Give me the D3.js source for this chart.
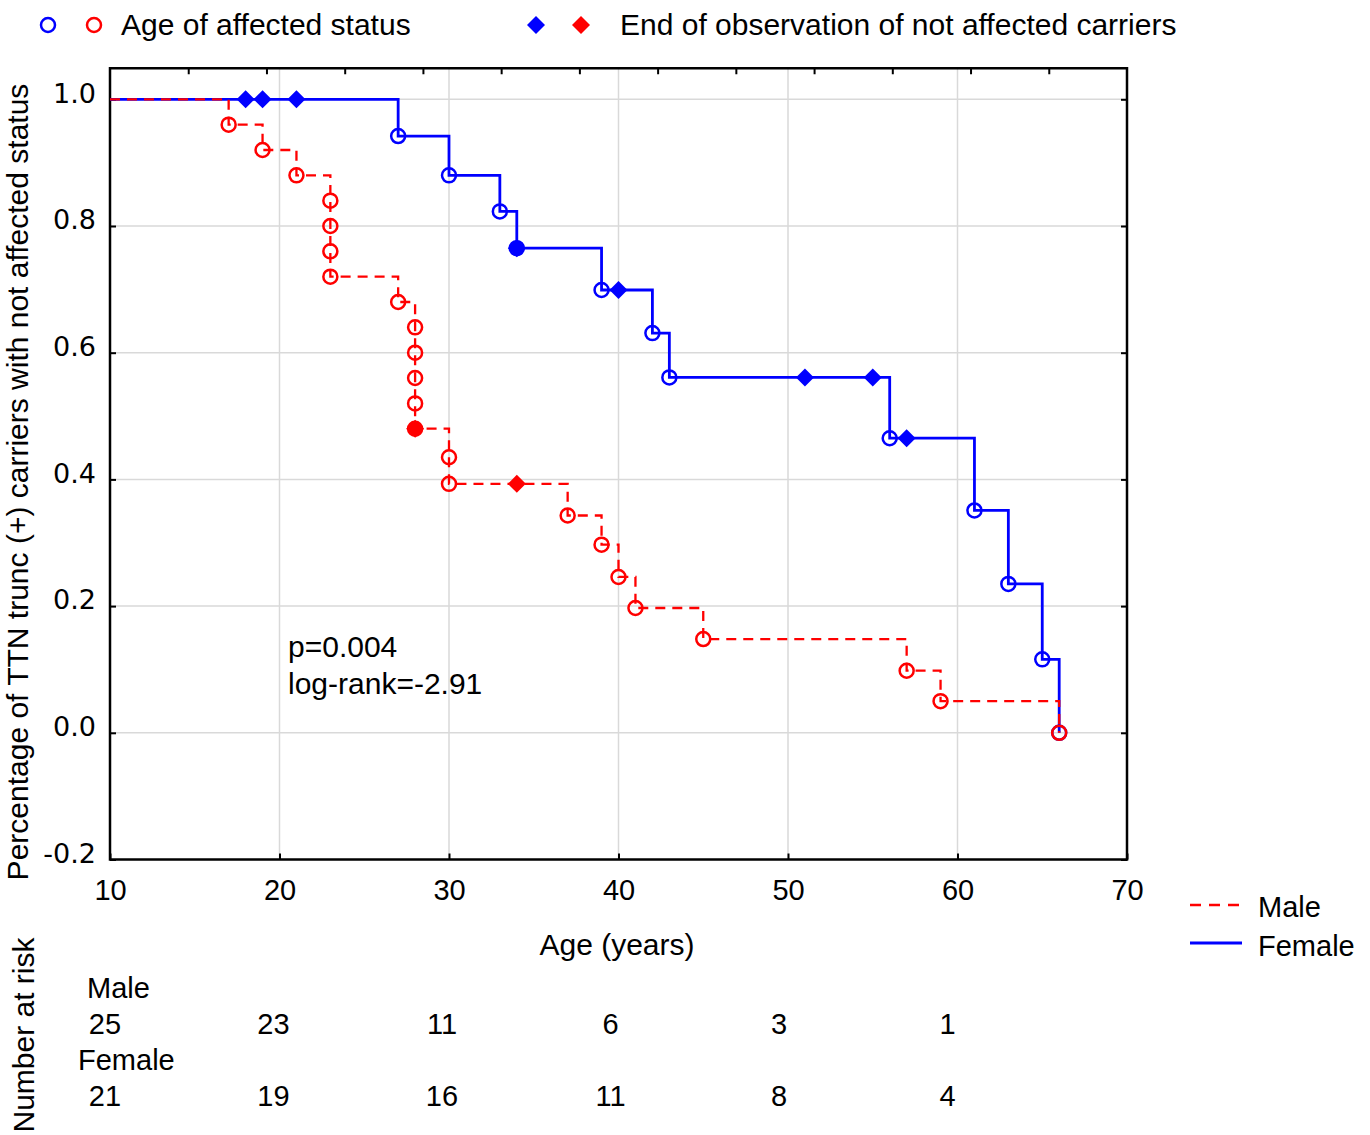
<!DOCTYPE html>
<html>
<head>
<meta charset="utf-8">
<script src="https://cdn.jsdelivr.net/npm/d3@7"></script>
<style>
  body { margin: 0; background: #fff; }
  svg text { font-family: "Liberation Sans", Arial, sans-serif; fill: #000; }
  .ytick text { font-family: "DejaVu Sans", Verdana, sans-serif; }
</style>
</head>
<body>
<svg id="chart" width="1370" height="1135"></svg>
<script>
// ages at which an affected status was observed (one entry per event) and survival after it
const maleEventAges = [17, 19, 21, 23, 23, 23, 23, 27, 28, 28, 28, 28, 28, 30, 30, 37, 39, 40, 41, 45, 57, 59, 66];
const maleEventSurv = [0.96, 0.92, 0.88, 0.84, 0.80, 0.76, 0.72, 0.68, 0.64, 0.60, 0.56, 0.52, 0.48, 0.435, 0.393, 0.343, 0.297, 0.246, 0.197, 0.148, 0.098, 0.05, 0];
const maleCensAges = [28, 34];
const maleCensSurv = [0.48, 0.393];

const femaleEventAges = [27, 30, 33, 34, 39, 42, 43, 56, 61, 63, 65, 66];
const femaleEventSurv = [0.942, 0.880, 0.823, 0.765, 0.699, 0.631, 0.561, 0.465, 0.351, 0.235, 0.116, 0];
const femaleCensAges = [18, 19, 21, 34, 40, 51, 55, 57];
const femaleCensSurv = [1, 1, 1, 0.765, 0.699, 0.561, 0.561, 0.465];

const xTicks = [10, 20, 30, 40, 50, 60, 70];
const yTicks = [-0.2, 0, 0.2, 0.4, 0.6, 0.8, 1.0];

const riskAges = [10, 20, 30, 40, 50, 60];
const maleAtRisk = [25, 23, 11, 6, 3, 1];
const femaleAtRisk = [21, 19, 16, 11, 8, 4];

const svg = d3.select("#chart");

const x = d3.scaleLinear().domain([10, 70]).range([110, 1127]);
const y = d3.scaleLinear().domain([-0.2, 1.0]).range([859.5, 99.3]);
const yTop = y(1.049);
const xTop = d3.scaleLinear().domain([0, 13]).range([110, 1127]); // secondary top ticks

const RED = "#ff0000", BLUE = "#0000ff";

// grid
svg.append("g").selectAll("line")
  .data(xTicks.slice(1, -1))
  .enter().append("line")
  .attr("x1", d => x(d)).attr("x2", d => x(d))
  .attr("y1", yTop).attr("y2", y(-0.2))
  .attr("stroke", "#d9d9d9").attr("stroke-width", 1.5);

svg.append("g").selectAll("line")
  .data(yTicks.slice(1))
  .enter().append("line")
  .attr("x1", x(10)).attr("x2", x(70))
  .attr("y1", d => y(d)).attr("y2", d => y(d))
  .attr("stroke", "#d9d9d9").attr("stroke-width", 1.5);

// axes, ticks pointing inward
const xAxis = svg.append("g")
  .attr("transform", `translate(0,${y(-0.2)})`)
  .call(d3.axisBottom(x).tickValues(xTicks).tickSize(-6).tickPadding(20).tickFormat(d3.format("d")));
xAxis.select(".domain").remove();
xAxis.selectAll("text").attr("font-size", 29).attr("font-family", "Liberation Sans, Arial, sans-serif");
xAxis.selectAll("line").attr("stroke-width", 2);

const yAxis = svg.append("g").attr("class", "ytick")
  .attr("transform", `translate(${x(10)},0)`)
  .call(d3.axisLeft(y).tickValues(yTicks).tickSize(-6).tickPadding(14).tickFormat(d => d.toFixed(1)));
yAxis.select(".domain").remove();
yAxis.selectAll("text").attr("font-size", 27).attr("dy", "0.1em");
yAxis.selectAll("line").attr("stroke-width", 2);

const yRight = svg.append("g")
  .attr("transform", `translate(${x(70)},0)`)
  .call(d3.axisRight(y).tickValues(yTicks).tickSize(-6).tickFormat(""));
yRight.select(".domain").remove();
yRight.selectAll("line").attr("stroke-width", 2);

const xTopAxis = svg.append("g")
  .attr("transform", `translate(0,${yTop})`)
  .call(d3.axisTop(xTop).tickValues(d3.range(1, 13)).tickSize(-6).tickFormat(""));
xTopAxis.select(".domain").remove();
xTopAxis.selectAll("line").attr("stroke-width", 2);

// frame
svg.append("rect")
  .attr("x", x(10)).attr("y", yTop)
  .attr("width", x(70) - x(10)).attr("height", y(-0.2) - yTop)
  .attr("fill", "none").attr("stroke", "#000").attr("stroke-width", 2.5);

// Kaplan-Meier step curve from event lists
function stepPoints(ages, surv) {
  const pts = [[10, 1]];
  let prev = 1;
  ages.forEach((a, i) => {
    pts.push([a, prev]);
    pts.push([a, surv[i]]);
    prev = surv[i];
  });
  return pts;
}

const line = d3.line().x(d => x(d[0])).y(d => y(d[1]));
const diamond = h => `M0,${-h}L${h},0L0,${h}L${-h},0Z`;

function drawSeries(ages, surv, cAges, cSurv, color, dash, width) {
  const g = svg.append("g");
  g.append("path")
    .attr("d", line(stepPoints(ages, surv)))
    .attr("fill", "none").attr("stroke", color)
    .attr("stroke-width", width)
    .attr("stroke-dasharray", dash);
  g.selectAll("circle")
    .data(ages.map((a, i) => [a, surv[i]]))
    .enter().append("circle")
    .attr("cx", d => x(d[0])).attr("cy", d => y(d[1]))
    .attr("r", 7)
    .attr("fill", "none").attr("stroke", color).attr("stroke-width", 2.5);
  g.selectAll(".cens")
    .data(cAges.map((a, i) => [a, cSurv[i]]))
    .enter().append("path")
    .attr("class", "cens")
    .attr("transform", d => `translate(${x(d[0])},${y(d[1])})`)
    .attr("d", diamond(9))
    .attr("fill", color);
}

drawSeries(femaleEventAges, femaleEventSurv, femaleCensAges, femaleCensSurv, BLUE, null, 2.8);
drawSeries(maleEventAges, maleEventSurv, maleCensAges, maleCensSurv, RED, "10,7", 2.3);

// stats annotation
svg.append("text").attr("x", 288).attr("y", 657).attr("font-size", 30).text("p=0.004");
svg.append("text").attr("x", 288).attr("y", 694).attr("font-size", 30).text("log-rank=-2.91");

// top legend
svg.append("circle").attr("cx", 48).attr("cy", 25).attr("r", 7)
  .attr("fill", "none").attr("stroke", BLUE).attr("stroke-width", 2.5);
svg.append("circle").attr("cx", 94).attr("cy", 25).attr("r", 7)
  .attr("fill", "none").attr("stroke", RED).attr("stroke-width", 2.5);
svg.append("text").attr("x", 121).attr("y", 35).attr("font-size", 30).text("Age of affected status");
svg.append("path").attr("transform", "translate(536,25)").attr("d", diamond(9)).attr("fill", BLUE);
svg.append("path").attr("transform", "translate(581,25)").attr("d", diamond(9)).attr("fill", RED);
svg.append("text").attr("x", 620).attr("y", 35).attr("font-size", 30).text("End of observation of not affected carriers");

// axis titles
svg.append("text")
  .attr("transform", "translate(28,482) rotate(-90)")
  .attr("text-anchor", "middle").attr("font-size", 30)
  .text("Percentage of TTN trunc (+) carriers with not affected status");
svg.append("text")
  .attr("x", 617).attr("y", 955)
  .attr("text-anchor", "middle").attr("font-size", 30)
  .text("Age (years)");

// bottom-right legend
svg.append("line").attr("x1", 1190).attr("x2", 1242).attr("y1", 905).attr("y2", 905)
  .attr("stroke", RED).attr("stroke-width", 2.3).attr("stroke-dasharray", "11,8");
svg.append("text").attr("x", 1258).attr("y", 917).attr("font-size", 29).text("Male");
svg.append("line").attr("x1", 1190).attr("x2", 1242).attr("y1", 943).attr("y2", 943)
  .attr("stroke", BLUE).attr("stroke-width", 2.8);
svg.append("text").attr("x", 1258).attr("y", 956).attr("font-size", 29).text("Female");

// number at risk table
svg.append("text")
  .attr("transform", "translate(34,1035) rotate(-90)")
  .attr("text-anchor", "middle").attr("font-size", 30)
  .text("Number at risk");
svg.append("text").attr("x", 87).attr("y", 998).attr("font-size", 29).text("Male");
svg.append("text").attr("x", 78).attr("y", 1070).attr("font-size", 29).text("Female");

svg.append("g").selectAll("text")
  .data(maleAtRisk)
  .enter().append("text")
  .attr("x", (d, i) => x(riskAges[i]) - 5 - i).attr("y", 1034)
  .attr("text-anchor", "middle").attr("font-size", 29)
  .text(d => d);
svg.append("g").selectAll("text")
  .data(femaleAtRisk)
  .enter().append("text")
  .attr("x", (d, i) => x(riskAges[i]) - 5 - i).attr("y", 1106)
  .attr("text-anchor", "middle").attr("font-size", 29)
  .text(d => d);
</script>
</body>
</html>
